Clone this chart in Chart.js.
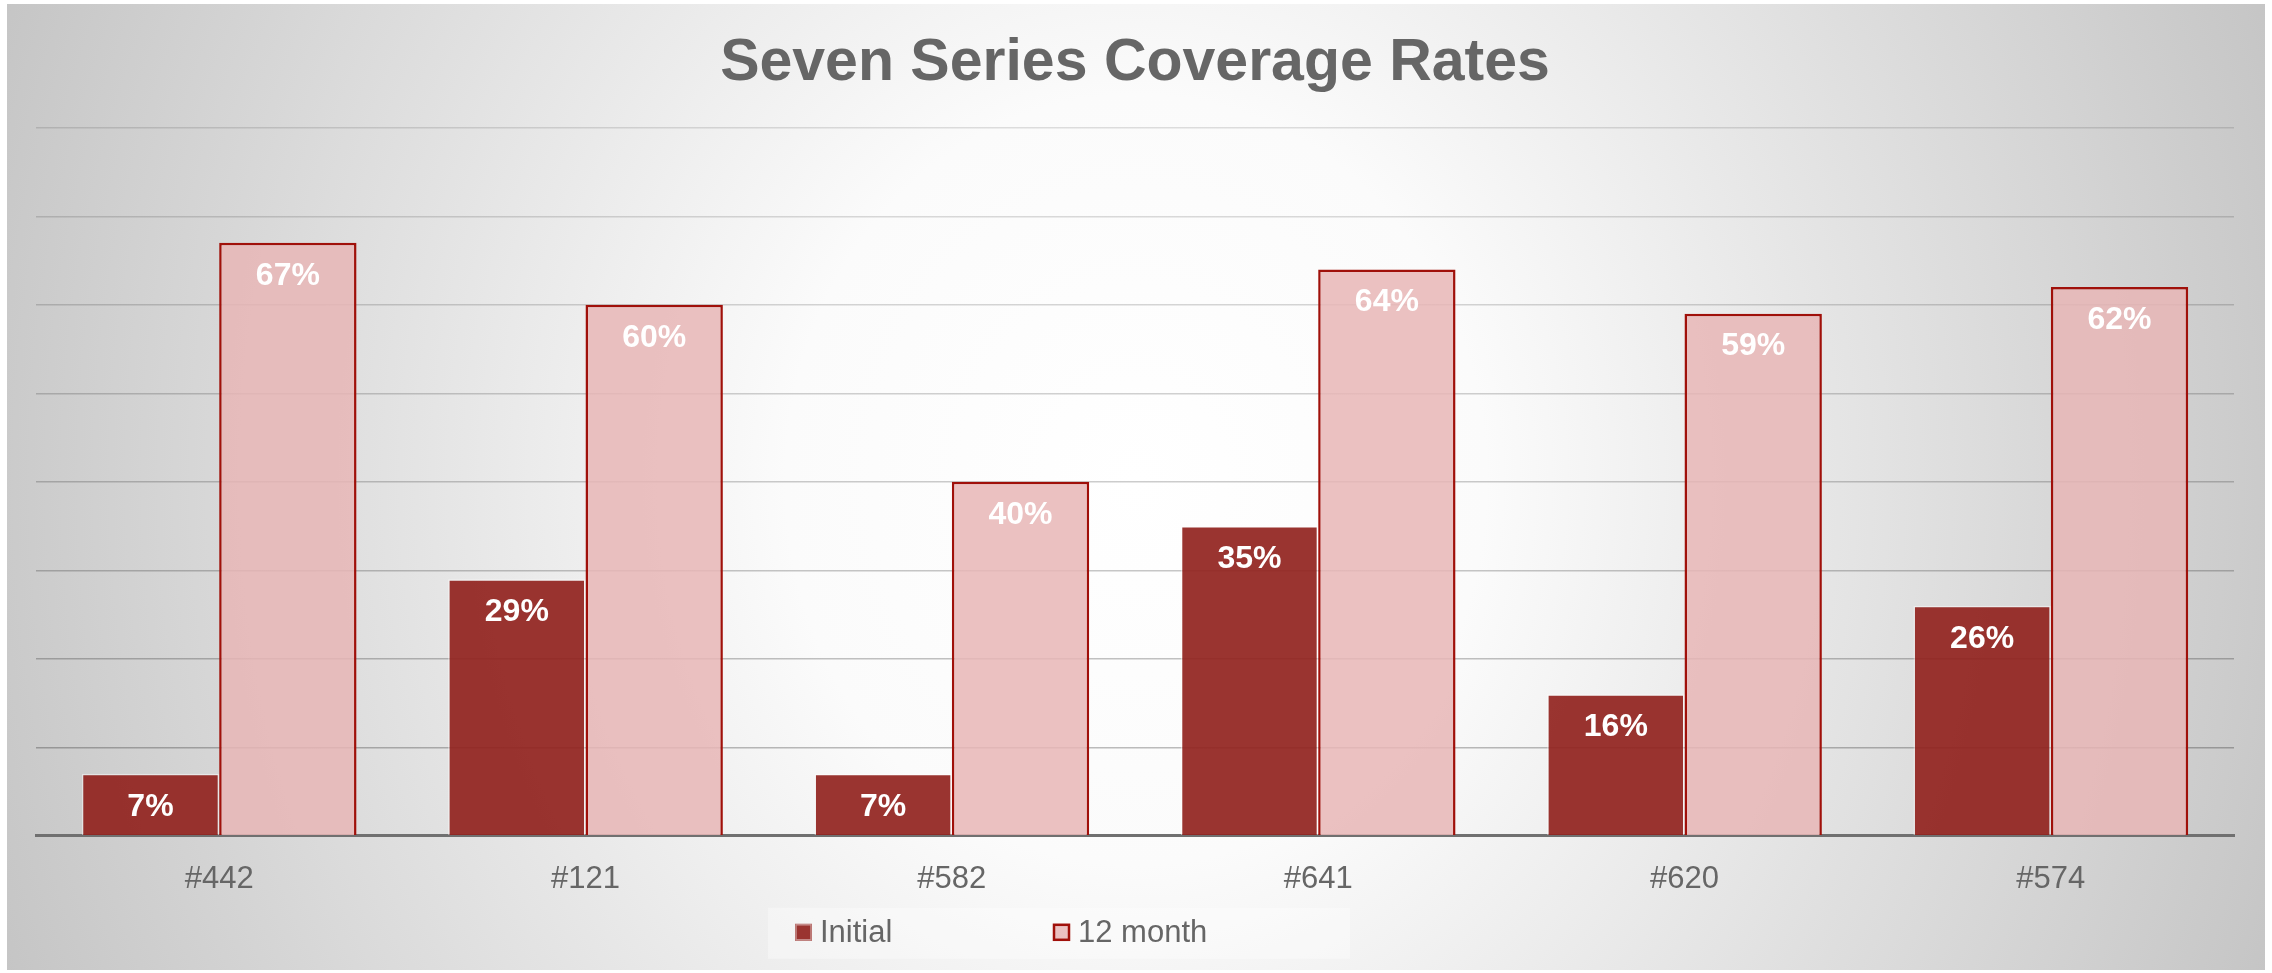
<!DOCTYPE html>
<html>
<head>
<meta charset="utf-8">
<title>Seven Series Coverage Rates</title>
<script src="https://cdn.jsdelivr.net/npm/chart.js@4.4.1/dist/chart.umd.min.js"></script>
<style>
    html, body { margin: 0; padding: 0; background: #fff; }
    canvas { display: block; }
</style>
</head>
<body>
<canvas id="coverageChart" width="2272" height="973"></canvas>
<script>
const categories = ['#442', '#121', '#582', '#641', '#620', '#574'];
const seriesLabels = ['Initial', '12 month'];
const initialRates = [0.07, 0.29, 0.07, 0.35, 0.16, 0.26];
const twelveMonthRates = [0.67, 0.60, 0.40, 0.64, 0.59, 0.62];
const yMax = 0.8;
const yStep = 0.1;

const fontFamily = "'Liberation Sans', Arial, sans-serif";
const textGray = '#666666';

// grey radial backdrop like the office chart area
const backdrop = {
    id: 'backdrop',
    beforeDraw(chart) {
        const ctx = chart.ctx;
        ctx.save();
        ctx.fillStyle = '#ffffff';
        ctx.fillRect(0, 0, chart.width, chart.height);
        ctx.beginPath();
        ctx.rect(7, 4, chart.width - 14, chart.height - 7);
        ctx.clip();
        ctx.translate(chart.width / 2, 480);
        ctx.scale(1, 1.1);
        const g = ctx.createRadialGradient(0, 0, 0, 0, 0, 1250);
        g.addColorStop(0, '#ffffff');
        g.addColorStop(0.28, '#fbfbfb');
        g.addColorStop(1, '#c3c3c3');
        ctx.fillStyle = g;
        ctx.fillRect(-chart.width, -chart.height, chart.width * 2, chart.height * 2);
        ctx.restore();
    }
};

// white percentage labels just inside the top of each bar
const barLabels = {
    id: 'barLabels',
    afterDatasetsDraw(chart) {
        const ctx = chart.ctx;
        ctx.save();
        ctx.font = 'bold 32px ' + fontFamily;
        ctx.fillStyle = '#ffffff';
        ctx.textAlign = 'center';
        ctx.textBaseline = 'middle';
        chart.data.datasets.forEach((ds, i) => {
            chart.getDatasetMeta(i).data.forEach((bar, j) => {
                ctx.fillText(Math.round(ds.data[j] * 100) + '%', bar.x, bar.y + 33);
            });
        });
        ctx.restore();
    }
};

// legend drawn by hand so it sits where the original one does
const bottomLegend = {
    id: 'bottomLegend',
    afterDraw(chart) {
        const ctx = chart.ctx;
        const cy = chart.chartArea.bottom + 97;
        ctx.save();
        ctx.fillStyle = 'rgba(255, 255, 255, 0.35)';
        ctx.fillRect(768, cy - 25, 582, 51);
        const starts = [795, 1053];
        ctx.font = '31px ' + fontFamily;
        ctx.textBaseline = 'middle';
        chart.data.datasets.forEach((ds, i) => {
            const x = starts[i];
            ctx.fillStyle = ds.backgroundColor;
            ctx.fillRect(x, cy - 9, 17, 17);
            ctx.lineWidth = ds.borderWidth;
            ctx.strokeStyle = ds.borderColor;
            ctx.strokeRect(x + 1, cy - 8, 15, 15);
            ctx.fillStyle = textGray;
            ctx.fillText(ds.label, x + 25, cy + 1);
        });
        ctx.restore();
    }
};

function buildChart() {
    const ctx = document.getElementById('coverageChart').getContext('2d');
    return new Chart(ctx, {
        type: 'bar',
        data: {
            labels: categories,
            datasets: [
                {
                    label: seriesLabels[0],
                    data: initialRates,
                    backgroundColor: 'rgba(145, 35, 30, 0.92)',
                    borderColor: 'rgba(255, 255, 255, 0.45)',
                    borderWidth: 1.5
                },
                {
                    label: seriesLabels[1],
                    data: twelveMonthRates,
                    backgroundColor: 'rgba(232, 182, 182, 0.85)',
                    borderColor: '#a0100a',
                    borderWidth: 2.5
                }
            ]
        },
        options: {
            responsive: false,
            animation: false,
            devicePixelRatio: 1,
            categoryPercentage: 0.75,
            barPercentage: 1,
            layout: {
                padding: { left: 36, right: 38, top: 0, bottom: 50 }
            },
            plugins: {
                legend: { display: false },
                tooltip: { enabled: false },
                title: {
                    display: true,
                    text: 'Seven Series Coverage Rates',
                    color: textGray,
                    font: { family: fontFamily, size: 59, weight: 'bold', lineHeight: 1.2 },
                    padding: { top: 28, bottom: 29 }
                }
            },
            scales: {
                x: {
                    grid: { display: false, drawTicks: false },
                    border: { display: true, color: '#707070', width: 3 },
                    ticks: {
                        color: textGray,
                        padding: 25,
                        font: { family: fontFamily, size: 31 }
                    }
                },
                y: {
                    min: 0,
                    max: yMax,
                    border: { display: false },
                    grid: {
                        drawTicks: false,
                        lineWidth: 1.5,
                        color: c => 'rgba(0, 0, 0, ' + (0.28 - 0.02 * c.index).toFixed(3) + ')'
                    },
                    ticks: { display: false, stepSize: yStep }
                }
            }
        },
        plugins: [backdrop, barLabels, bottomLegend]
    });
}

document.addEventListener('DOMContentLoaded', () => {
    buildChart();
});
</script>
</body>
</html>
